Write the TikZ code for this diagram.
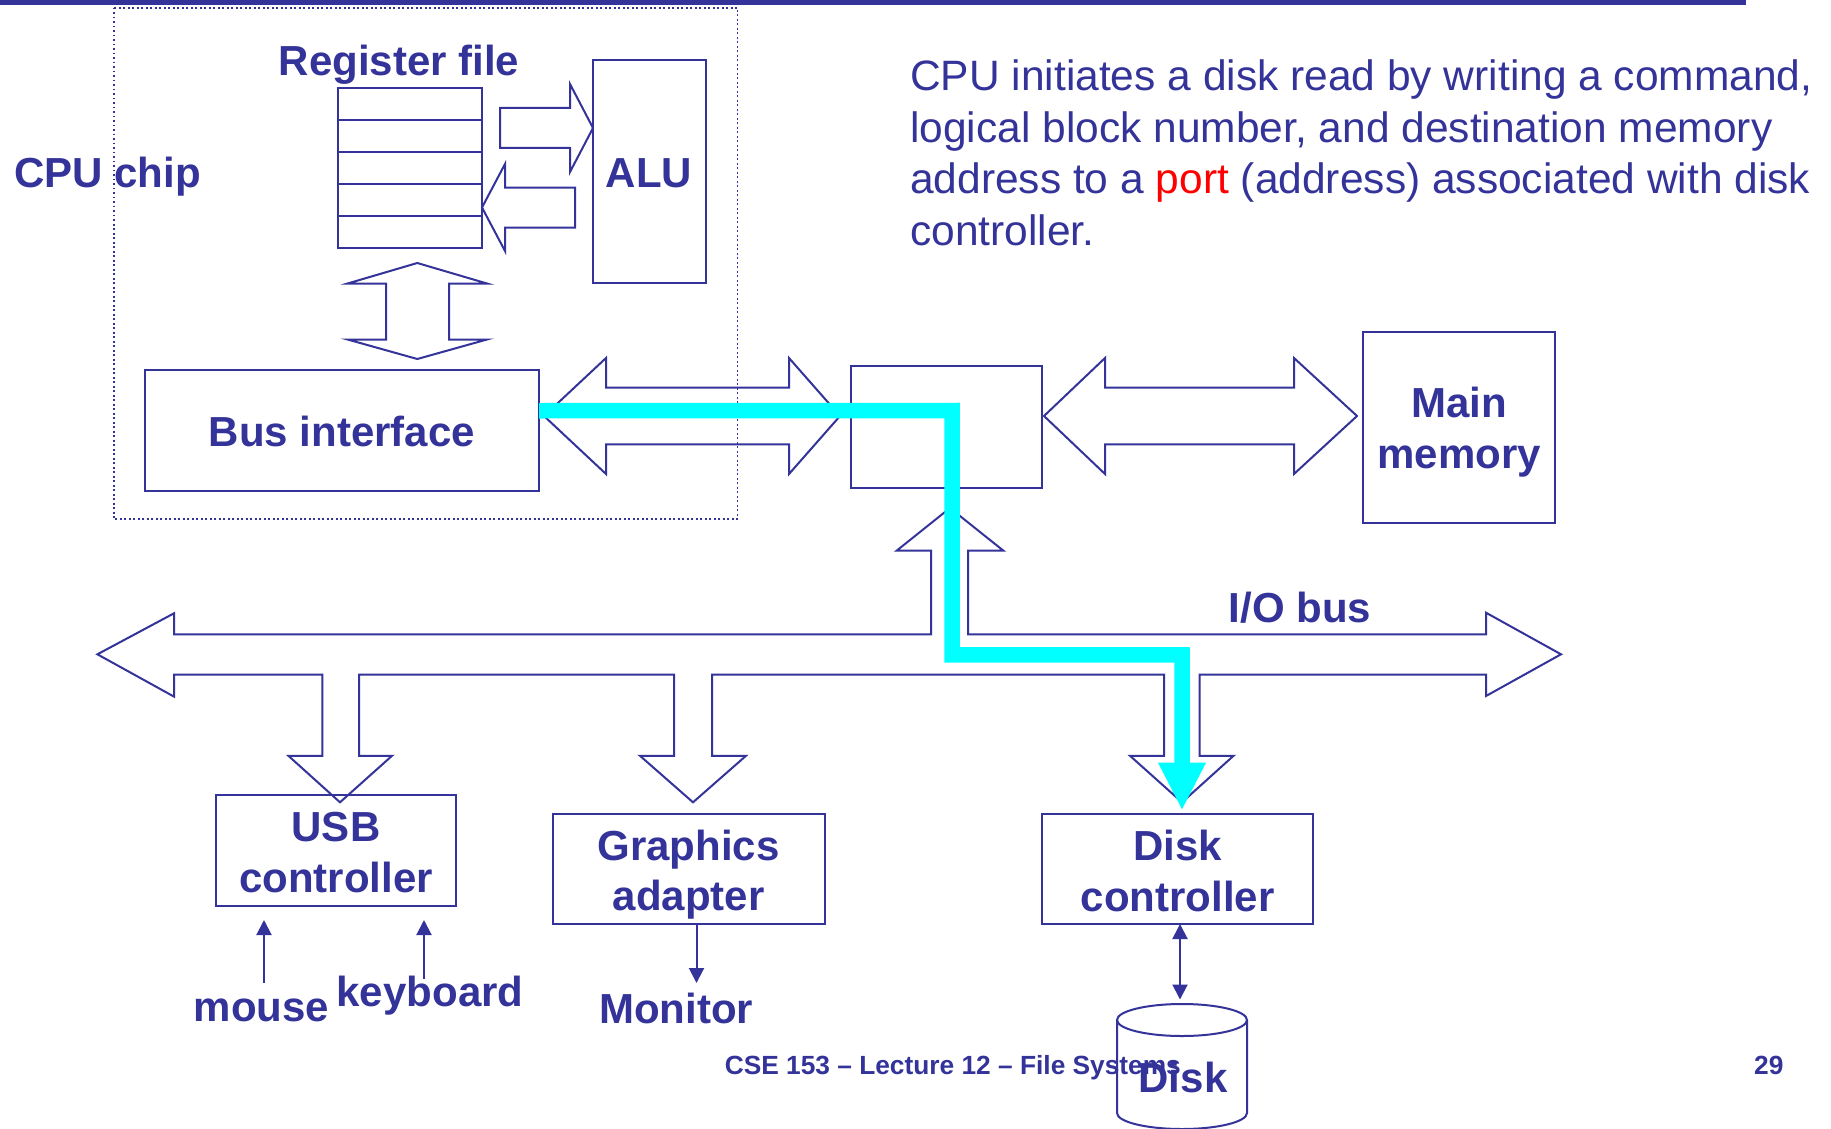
\documentclass[tikz,border=0pt]{standalone}
\usepackage{fontspec}
\setmainfont{Liberation Sans}
\usetikzlibrary{arrows.meta}
\definecolor{dblue}{RGB}{51,51,153}
\definecolor{hcyan}{RGB}{0,255,255}
\definecolor{hred}{RGB}{255,0,0}
\begin{document}
\begin{tikzpicture}[x=1pt,y=-1pt,
  ln/.style={draw=dblue, line width=2pt},
  box/.style={ln, anchor=north west, inner sep=0pt, outer sep=0pt},
  blk/.style={draw=dblue, line width=2pt, line join=miter},
  lbl/.style={text=dblue, font=\bfseries\fontsize{42}{50}\selectfont, inner sep=0pt},
  para/.style={text=dblue, font=\fontsize{42.5}{51}\selectfont, inner sep=0pt, anchor=base west},
  foot/.style={text=dblue, font=\bfseries\fontsize{26.3}{30}\selectfont, inner sep=0pt, anchor=base west},
  tarrow/.style={draw=dblue, line width=2pt, -{Triangle[width=15pt,length=15pt]}},
  tdarrow/.style={draw=dblue, line width=2pt, {Triangle[width=15pt,length=15pt]}-{Triangle[width=15pt,length=15pt]}},
  hl/.style={draw=hcyan, line width=15.5pt, line join=miter}
]
\fill[white] (0,0) rectangle (1831,1129);
\useasboundingbox (0,0) rectangle (1831,1129);
% top rule
\fill[dblue] (0,0) rectangle (1746,5);
% CPU chip dotted outline
\draw[dblue, line width=1.9pt, dash pattern=on 1.9pt off 2.6pt] (113.8,7.6) rectangle (737.5,519);
\node[lbl, anchor=base west] (cpul) at (14,187) {CPU chip};

% register file
\node[box, minimum width=144.5pt, minimum height=160pt] (reg) at (337.5,87.6) {};
\foreach \yy in {119.6,151.6,183.6,215.6}
  \draw[ln] (337.5,\yy) -- (482,\yy);
\node[lbl, anchor=base] (regl) at (399,76) {Register file};

% ALU
\node[box, minimum width=112.5pt, minimum height=223.4pt] (alu) at (593,59.6) {};
\node[lbl, anchor=base] (alul) at (649,187) {ALU};

% bus interface
\node[box, minimum width=394pt, minimum height=121.5pt] (busif) at (145,369.5) {};
\node[lbl, anchor=base] (busifl) at (342,446) {Bus interface};

% bridge
\node[box, minimum width=191pt, minimum height=122pt] (bridge) at (851,366) {};

% main memory
\node[box, minimum width=191.5pt, minimum height=191.4pt] (mem) at (1363,331.6) {};
\node[lbl, anchor=base] (meml1) at (1459,417) {Main};
\node[lbl, anchor=base] (meml2) at (1459,468) {memory};

% reg -> ALU
\draw[blk] (500,108) -- (570,108) -- (570,84) -- (593,128) -- (570,172) -- (570,148) -- (500,148) -- cycle;
% ALU -> reg
\draw[blk] (575,187.5) -- (505,187.5) -- (505,164) -- (482,207.5) -- (505,251) -- (505,227.5) -- (575,227.5) -- cycle;
% reg <-> bus interface
\draw[blk] (417.3,263) -- (487,283.5) -- (449,283.5) -- (449,339.5) -- (487,339.5) -- (417.3,359)
  -- (347.6,339.5) -- (386,339.5) -- (386,283.5) -- (347.6,283.5) -- cycle;
% bus interface <-> bridge
\draw[blk] (544,416) -- (606,358) -- (606,387.7) -- (789,387.7) -- (789,358) -- (840,416)
  -- (789,474) -- (789,444.3) -- (606,444.3) -- (606,474) -- cycle;
% bridge <-> memory
\draw[blk] (1044,416) -- (1105,358) -- (1105,387.7) -- (1294,387.7) -- (1294,358) -- (1357,416)
  -- (1294,474) -- (1294,444.3) -- (1105,444.3) -- (1105,474) -- cycle;

% I/O bus with branches
\draw[blk] (174,634.3) -- (931,634.3) -- (931,550.7) -- (896.6,550.7) -- (950,508) -- (1003.4,550.7)
  -- (968,550.7) -- (968,634.3) -- (1486,634.3) -- (1486,612.7) -- (1561,654.3) -- (1486,696)
  -- (1486,674.5) -- (1199.6,674.5) -- (1199.6,755.8) -- (1233.5,755.8) -- (1182,802.3)
  -- (1130,755.8) -- (1164,755.8) -- (1164,674.5) -- (712,674.5) -- (712,755.8) -- (746,755.8)
  -- (693,802.3) -- (640,755.8) -- (674,755.8) -- (674,674.5) -- (359,674.5) -- (359,755.8)
  -- (392,755.8) -- (340,802.3) -- (288.4,755.8) -- (322.3,755.8) -- (322.3,674.5) -- (174,674.5)
  -- (174,696.6) -- (97.4,654.3) -- (174,613.3) -- cycle;
\node[lbl, anchor=base west] (iobus) at (1228.6,622) {I/O bus};

% USB controller
\node[box, minimum width=240pt, minimum height=110.6pt] (usb) at (216,795) {};
\node[lbl, anchor=base] (usbl1) at (336,841) {USB};
\node[lbl, anchor=base] (usbl2) at (336,892) {controller};

% Graphics adapter
\node[box, minimum width=271.5pt, minimum height=110.5pt] (gfx) at (553,813.5) {};
\node[lbl, anchor=base] (gfxl1) at (688.5,860) {Graphics};
\node[lbl, anchor=base] (gfxl2) at (688.5,910) {adapter};

% Disk controller
\node[box, minimum width=271.4pt, minimum height=110.5pt] (dctl) at (1041.6,813.5) {};
\node[lbl, anchor=base] (dctll1) at (1177.5,860) {Disk};
\node[lbl, anchor=base] (dctll2) at (1177.5,911) {controller};

% devices
\node[lbl, anchor=base] (mouse) at (261.5,1021.7) {mouse};
\node[lbl, anchor=base] (kbd) at (430,1006) {keyboard};
\node[lbl, anchor=base] (mon) at (676,1023) {Monitor};

\coordinate (mouseT) at (264,983);
\coordinate (mouseH) at (264,920);
\coordinate (kbdT) at (424,979);
\coordinate (kbdH) at (424,920);
\coordinate (gfxB) at (696.5,924);
\coordinate (monH) at (696.5,983);
\coordinate (dctlB) at (1180,924);
\coordinate (diskH) at (1180,999.5);
\draw[tarrow] (mouseT) -- (mouseH);
\draw[tarrow] (kbdT) -- (kbdH);
\draw[tarrow] (gfxB) -- (monH);
\draw[tdarrow] (dctlB) -- (diskH);

% disk cylinder
\draw[ln] (1117,1020) -- (1117,1113) arc[start angle=180, end angle=0, x radius=65, y radius=16] -- (1247,1020);
\draw[ln] (1182,1020) ellipse[x radius=65, y radius=16];
\node[lbl, anchor=base] (diskl) at (1183,1092) {Disk};

% highlighted path
\coordinate (hlA) at ([yshift=19.5pt]busif.east);
\coordinate (hlB) at (952,410.5);
\coordinate (hlC) at (952,654.8);
\coordinate (hlD) at (1182,654.8);
\coordinate (hlE) at (1182,764);
\draw[hl] (hlA) -- (hlB) -- (hlC) -- (hlD) -- (hlE);
\fill[hcyan] (1158,762.7) -- (1206,762.7) -- (1182,809.3) -- cycle;

% explanatory text
\node[para] (p1) at (910,91) {CPU initiates a disk read by writing a command,};
\node[para] (p2) at (910,142.5) {logical block number, and destination memory};
\node[para] (p3) at (910,193.5) {address to a \textcolor{hred}{port} (address) associated with disk};
\node[para] (p4) at (910,245) {controller.};

% footer
\node[foot] (footer) at (724.6,1074) {CSE 153 – Lecture 12 – File Systems};
\node[foot] (pagenum) at (1754,1074) {29};
\end{tikzpicture}
\end{document}
